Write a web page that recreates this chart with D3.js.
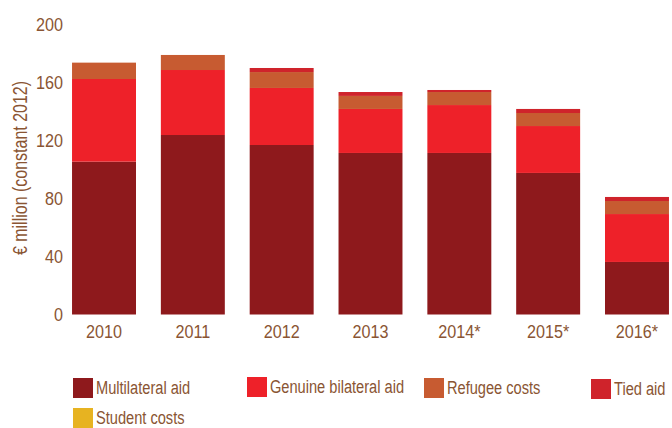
<!DOCTYPE html>
<html>
<head>
<meta charset="utf-8">
<script src="https://cdn.jsdelivr.net/npm/d3@7"></script>
<style>
  html, body { margin: 0; padding: 0; background: #fff; }
  svg { display: block; }
  text { font-family: "Liberation Sans", Arial, sans-serif; fill: #8a5533; }
</style>
</head>
<body>
<svg id="chart" width="672" height="428"></svg>
<script>
// ---- data ----
const years = ["2010", "2011", "2012", "2013", "2014*", "2015*", "2016*"];
const seriesNames = ["Multilateral aid", "Genuine bilateral aid", "Refugee costs", "Tied aid", "Student costs"];
const multilateral = [105.6, 124.0, 117.1, 111.6, 111.6, 97.8, 36.3];
const bilateral    = [57.1, 44.9, 39.4, 30.4, 33.1, 32.4, 33.1];
const refugee      = [11.3, 10.4, 11.0, 9.0, 9.0, 9.0, 9.0];
const tied         = [0, 0, 2.8, 2.7, 1.4, 2.8, 2.8];
const student      = [0, 0, 0, 0, 0, 0, 0];
const yTicks = [0, 40, 80, 120, 160, 200];
const colors = ["#8e191c", "#ee2129", "#c75b31", "#cf232b", "#e7b321"];
const yTitle = "€ million (constant 2012)";

// ---- build ----
const seriesArrays = [multilateral, bilateral, refugee, tied, student];
const rows = years.map((y, i) => {
  const r = { year: y };
  seriesNames.forEach((s, k) => r[s] = seriesArrays[k][i]);
  return r;
});
const stacked = d3.stack().keys(seriesNames)(rows);

const svg = d3.select("#chart");
const x = d3.scaleBand().domain(years).range([59.6, 681.4]).paddingInner(0.28).paddingOuter(0.14);
const y = d3.scaleLinear().domain([0, 200]).range([314.5, 25]);
const color = d3.scaleOrdinal().domain(seriesNames).range(colors);

svg.append("g")
  .selectAll("g")
  .data(stacked)
  .join("g")
  .attr("fill", d => color(d.key))
  .selectAll("rect")
  .data(d => d)
  .join("rect")
  .attr("x", d => x(d.data.year))
  .attr("width", x.bandwidth())
  .attr("y", d => y(d[1]))
  .attr("height", d => y(d[0]) - y(d[1]));

// y axis
const tickScale = 0.87;
const yAxis = svg.append("g")
  .attr("transform", "translate(70,0)")
  .call(d3.axisLeft(y).tickValues(yTicks).tickSize(0).tickPadding(7).tickFormat(d3.format("d")));
yAxis.select(".domain").remove();
yAxis.attr("font-family", null).attr("font-size", null);
yAxis.selectAll("text")
  .attr("fill", null)
  .style("font-size", "18.6px")
  .attr("x", -7 / tickScale)
  .attr("transform", `scale(${tickScale},1)`);

// x axis
const xAxis = svg.append("g")
  .attr("transform", "translate(0,314.5)")
  .call(d3.axisBottom(x).tickSize(0).tickPadding(10));
xAxis.select(".domain").remove();
xAxis.attr("font-family", null).attr("font-size", null);
xAxis.selectAll("text")
  .attr("fill", null)
  .style("font-size", "18.6px")
  .attr("transform", `scale(${tickScale},1)`);

// y title
svg.append("text")
  .attr("transform", "translate(26.5,168) rotate(-90) scale(0.82,1)")
  .attr("text-anchor", "middle")
  .style("font-size", "19.5px")
  .text(yTitle);

// legend
const legendPos = [[73, 378], [247, 377], [424, 378], [591, 379], [73, 408]];
const lg = svg.append("g").selectAll("g")
  .data(seriesNames)
  .join("g")
  .attr("transform", (d, i) => `translate(${legendPos[i][0]},${legendPos[i][1]})`);
lg.append("rect").attr("width", 20).attr("height", 20).attr("fill", d => color(d));
lg.append("text")
  .attr("transform", "translate(23,15.5) scale(0.77,1)")
  .style("font-size", "19px")
  .text(d => d);
</script>
</body>
</html>
